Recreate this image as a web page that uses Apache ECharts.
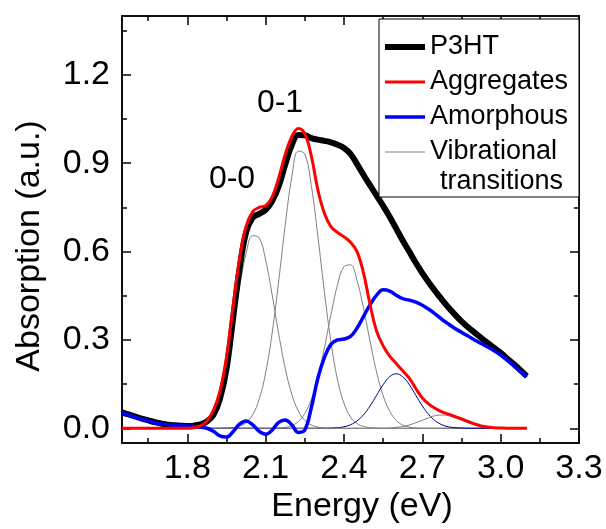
<!DOCTYPE html>
<html>
<head>
<meta charset="utf-8">
<script src="https://cdn.jsdelivr.net/npm/echarts@6/dist/echarts.min.js"></script>
<style>
html,body{margin:0;padding:0;background:#fff;}
#chart{width:606px;height:529px;}
</style>
</head>
<body>
<div id="chart"></div>
<script>
// Energy grid (eV)
var energies = [1.55,1.575,1.6,1.625,1.65,1.675,1.7,1.725,1.75,1.775,
  1.8,1.825,1.85,1.875,1.9,1.925,1.95,1.975,2.0,2.025,
  2.05,2.075,2.1,2.125,2.15,2.175,2.2,2.225,2.25,2.275,
  2.3,2.325,2.35,2.375,2.4,2.425,2.45,2.475,2.5,2.525,
  2.55,2.575,2.6,2.625,2.65,2.675,2.7,2.725,2.75,2.775,
  2.8,2.825,2.85,2.875,2.9,2.925,2.95,2.975,3.0,3.025,
  3.05,3.075,3.1];

var p3ht = [0.054,0.047,0.040,0.033,0.027,0.021,0.016,0.012,0.010,0.009,
  0.008,0.009,0.013,0.023,0.045,0.100,0.200,0.370,0.540,0.665,
  0.715,0.728,0.742,0.772,0.822,0.895,0.962,0.996,0.995,0.985,
  0.980,0.976,0.971,0.963,0.952,0.932,0.897,0.860,0.825,0.790,
  0.755,0.718,0.678,0.638,0.600,0.562,0.527,0.495,0.465,0.437,
  0.410,0.386,0.363,0.343,0.325,0.307,0.290,0.273,0.256,0.237,
  0.218,0.198,0.177];

var aggregates = [0,0,0,0,0,0,0,0,0,0,
  0,0.002,0.008,0.025,0.060,0.125,0.240,0.410,0.575,0.685,
  0.735,0.750,0.756,0.785,0.850,0.930,0.990,1.018,1.000,0.925,
  0.810,0.730,0.685,0.665,0.650,0.632,0.600,0.527,0.420,0.330,
  0.280,0.245,0.220,0.195,0.170,0.135,0.103,0.082,0.067,0.056,
  0.048,0.040,0.032,0.023,0.015,0.008,0.004,0.002,0.001,0,
  0,0,0];

var amorphous = [0.052,0.045,0.038,0.031,0.025,0.019,0.015,0.012,0.010,0.009,
  0.008,0.006,0.004,0.000,-0.010,-0.026,-0.030,-0.012,0.014,0.025,
  0.012,-0.010,-0.020,-0.006,0.020,0.028,0.012,-0.014,-0.006,0.070,
  0.170,0.240,0.285,0.300,0.303,0.312,0.340,0.380,0.420,0.452,
  0.470,0.466,0.452,0.440,0.435,0.428,0.418,0.404,0.388,0.370,
  0.354,0.339,0.326,0.313,0.300,0.288,0.276,0.263,0.249,0.232,
  0.213,0.194,0.174];

// Vibrational transitions (0-0, 0-1, 0-2, 0-3, 0-4)
var vib00 = [0,0,0,0,0,0,0,0,0,0,
  0.002,0.005,0.013,0.031,0.068,0.131,0.225,0.347,0.479,0.592,
  0.654,0.647,0.572,0.453,0.321,0.204,0.116,0.059,0.027,0.011,
  0.004,0.001,0,0,0,0,0,0,0,0,
  0,0,0,0,0,0,0,0,0,0,
  0,0,0,0,0,0,0,0,0,0,
  0,0,0];
var vib01 = [0,0,0,0,0,0,0,0,0,0,
  0,0,0,0,0,0,0.001,0.002,0.007,0.019,
  0.045,0.098,0.188,0.324,0.500,0.690,0.852,0.941,0.931,0.824,
  0.653,0.463,0.294,0.166,0.085,0.038,0.016,0.006,0.002,0.001,
  0,0,0,0,0,0,0,0,0,0,
  0,0,0,0,0,0,0,0,0,0,
  0,0,0];
var vib02 = [0,0,0,0,0,0,0,0,0,0,
  0,0,0,0,0,0,0,0,0,0,
  0,0,0,0,0.001,0.003,0.009,0.023,0.050,0.098,
  0.173,0.273,0.385,0.486,0.549,0.555,0.502,0.407,0.295,0.191,
  0.111,0.058,0.027,0.011,0.004,0.001,0,0,0,0,
  0,0,0,0,0,0,0,0,0,0,
  0,0,0];
var vib03 = [0,0,0,0,0,0,0,0,0,0,
  0,0,0,0,0,0,0,0,0,0,
  0,0,0,0,0,0,0,0,0,0,
  0,0,0.001,0.002,0.005,0.012,0.025,0.046,0.076,0.112,
  0.148,0.175,0.185,0.175,0.148,0.112,0.076,0.046,0.025,0.012,
  0.005,0.002,0.001,0,0,0,0,0,0,0,
  0,0,0];
var vib04 = [0,0,0,0,0,0,0,0,0,0,
  0,0,0,0,0,0,0,0,0,0,
  0,0,0,0,0,0,0,0,0,0,
  0,0,0,0,0,0,0,0,0,0,
  0,0.001,0.003,0.006,0.011,0.019,0.027,0.036,0.043,0.045,
  0.043,0.036,0.027,0.019,0.011,0.006,0.003,0.001,0,0,
  0,0,0];

var xMajor = [1.8,2.1,2.4,2.7,3.0,3.3];
var xMinor = [1.65,1.95,2.25,2.55,2.85,3.15];
var yMajor = [0,0.3,0.6,0.9,1.2];
var yMinor = [0.15,0.45,0.75,1.05,1.35];
var legendNames = ['P3HT','Aggregates','Amorphous','Vibrational'];

var FONT = 'Liberation Sans, Arial, sans-serif';
function zip(vals){ return energies.map(function(e,i){ return [e, vals[i]]; }); }

var gridRect = {left:122, right:27, top:16, bottom:86};
var X0 = 1.55, X1 = 3.3, Y0 = -0.05, Y1 = 1.4;
var axisLineStyle = {color:'#000', width:1.5};

function xAx(grid, pos, ticks, len, labels){
  return {type:'value', gridIndex:grid, position:pos, min:X0, max:X1,
    axisLine:{show:true, onZero:false, lineStyle:axisLineStyle},
    axisTick:{show:true, inside:true, length:len, customValues:ticks, lineStyle:{color:'#000', width:1.5}},
    axisLabel:labels ? {show:true, customValues:ticks, formatter:function(v){return v.toFixed(1);},
      color:'#000', fontSize:34, fontFamily:FONT, margin:9} : {show:false},
    splitLine:{show:false}};
}
function yAx(grid, pos, ticks, len, labels){
  return {type:'value', gridIndex:grid, position:pos, min:Y0, max:Y1,
    axisLine:{show:true, onZero:false, lineStyle:axisLineStyle},
    axisTick:{show:true, inside:true, length:len, customValues:ticks, lineStyle:{color:'#000', width:1.5}},
    axisLabel:labels ? {show:true, customValues:ticks, formatter:function(v){return v.toFixed(1);},
      color:'#000', fontSize:34, fontFamily:FONT, margin:12} : {show:false},
    splitLine:{show:false}};
}

function line(name, vals, color, width, z){
  return {type:'line', name:name, data:zip(vals), xAxisIndex:0, yAxisIndex:0,
    smooth:0.4, symbol:'none', showSymbol:false, z:z,
    lineStyle:{color:color, width:width}, itemStyle:{color:color}, animation:false};
}

var legendData = [
  {name:'P3HT', icon:'path://M0,0h40v6h-40z'},
  {name:'Aggregates', icon:'path://M0,0h40v3h-40z'},
  {name:'Amorphous', icon:'path://M0,0h40v3.5h-40z'},
  {name:'Vibrational', icon:'path://M0,0h40v1h-40z'}
];

var chart = echarts.init(document.getElementById('chart'), null, {renderer:'canvas'});
chart.setOption({
  backgroundColor:'#fff',
  animation:false,
  grid:[Object.assign({}, gridRect), Object.assign({}, gridRect)],
  xAxis:[xAx(0,'bottom',xMajor,9,true), xAx(0,'top',xMajor,9,false),
         xAx(1,'bottom',xMinor,5,false), xAx(1,'top',xMinor,5,false)],
  yAxis:[yAx(0,'left',yMajor,9,true), yAx(0,'right',yMajor,9,false),
         yAx(1,'left',yMinor,5,false), yAx(1,'right',yMinor,5,false)],
  legend:{show:true, orient:'vertical', left:385, top:32, padding:0,
    itemWidth:40, itemHeight:14, itemGap:5, selectedMode:false, z:10,
    data:legendData,
    itemStyle:{borderWidth:0},
    textStyle:{color:'#000', fontSize:27, lineHeight:30, fontFamily:FONT}},
  series:[
    line('Vibrational', vib00, '#808080', 1, 2),
    line('Vibrational', vib01, '#808080', 1, 2),
    line('Vibrational', vib02, '#808080', 1, 2),
    line('Vibrational', vib03, '#000080', 1, 2),
    line('Vibrational', vib04, '#808080', 1, 2),
    line('P3HT', p3ht, '#000000', 6, 3),
    line('Amorphous', amorphous, '#0000ff', 3.5, 4),
    line('Aggregates', aggregates, '#ff0000', 3, 5)
  ],
  graphic:[
    {type:'rect', z:8, shape:{x:379, y:19, width:200, height:178},
      style:{fill:'#fff', stroke:'#000', lineWidth:1}},
    {type:'text', z:11, x:440, y:182,
      style:{text:'transitions', font:'27px ' + FONT, fill:'#000', textAlign:'left', textVerticalAlign:'middle'}},
    {type:'text', z:11, x:232, y:179,
      style:{text:'0-0', font:'32px ' + FONT, fill:'#000', textAlign:'center', textVerticalAlign:'middle'}},
    {type:'text', z:11, x:280, y:103,
      style:{text:'0-1', font:'32px ' + FONT, fill:'#000', textAlign:'center', textVerticalAlign:'middle'}},
    {type:'text', z:11, x:362, y:507,
      style:{text:'Energy (eV)', font:'34px ' + FONT, fill:'#000', textAlign:'center', textVerticalAlign:'middle'}},
    {type:'text', z:11, x:30, y:246, rotation:Math.PI/2,
      style:{text:'Absorption (a.u.)', font:'34px ' + FONT, fill:'#000', textAlign:'center', textVerticalAlign:'middle'}}
  ]
});
</script>
</body>
</html>
